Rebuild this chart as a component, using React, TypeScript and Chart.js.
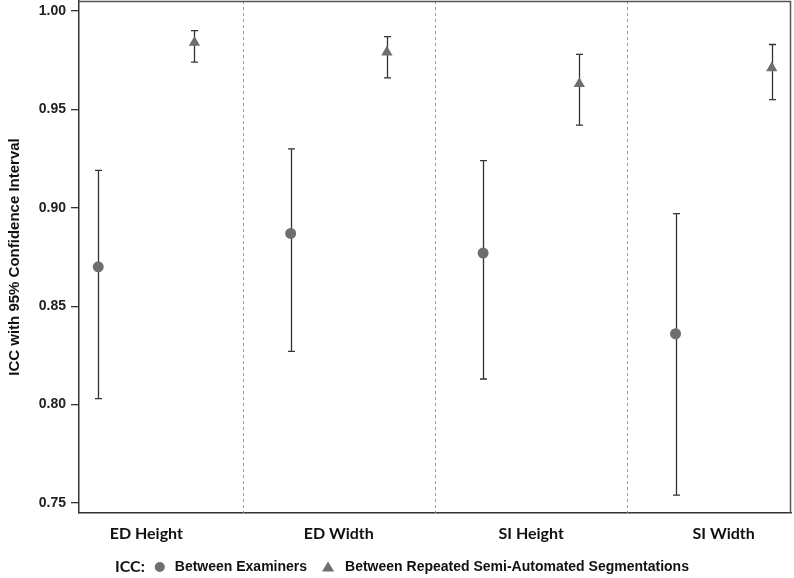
import React, { useEffect, useRef } from "react";
import { Chart, registerables } from "chart.js";
Chart.register(...registerables);

const categories = ["ED Height", "ED Width", "SI Height", "SI Width"];
const examinersICC = [0.87, 0.887, 0.877, 0.836];
const examinersLow = [0.803, 0.827, 0.813, 0.754];
const examinersHigh = [0.919, 0.93, 0.924, 0.897];
const segICC = [0.984, 0.979, 0.963, 0.971];
const segLow = [0.974, 0.966, 0.942, 0.955];
const segHigh = [0.99, 0.987, 0.978, 0.983];
const yTickValues = [0.75, 0.8, 0.85, 0.9, 0.95, 1.0];
const separators = [0.5, 1.5, 2.5];
const seriesNames = ["Between Examiners", "Between Repeated Semi-Automated Segmentations"];

const ARIAL = "'Liberation Sans', Arial, sans-serif";
const CAL = "Lato, 'Open Sans', sans-serif";
const MARK = "#6e6e6e";

const series = [
  { values: examinersICC, low: examinersLow, high: examinersHigh, offset: -0.25 },
  { values: segICC, low: segLow, high: segHigh, offset: 0.25 },
];

export default function App() {
  const ref = useRef<HTMLCanvasElement>(null);
  useEffect(() => {
    const canvas = ref.current!;
    const decor = {
      id: "decor",
      beforeDatasetsDraw(chart: any) {
        const { ctx, chartArea, scales } = chart;
        const x = scales.x, y = scales.y;
        ctx.save();
        ctx.strokeStyle = "#9a9a9a";
        ctx.lineWidth = 1;
        ctx.setLineDash([3, 3]);
        separators.forEach((s) => {
          const px = Math.round(x.getPixelForValue(s)) + 0.5;
          ctx.beginPath();
          ctx.moveTo(px, chartArea.top);
          ctx.lineTo(px, chartArea.bottom);
          ctx.stroke();
        });
        ctx.setLineDash([]);
        ctx.strokeStyle = "#333";
        ctx.lineWidth = 1.3;
        series.forEach((s) => {
          s.low.forEach((lo, i) => {
            const px = Math.round(x.getPixelForValue(i + s.offset)) + 0.5;
            const y1 = y.getPixelForValue(lo);
            const y2 = y.getPixelForValue(s.high[i]);
            ctx.beginPath();
            ctx.moveTo(px, y1);
            ctx.lineTo(px, y2);
            ctx.moveTo(px - 3.5, y1);
            ctx.lineTo(px + 3.5, y1);
            ctx.moveTo(px - 3.5, y2);
            ctx.lineTo(px + 3.5, y2);
            ctx.stroke();
          });
        });
        ctx.restore();
      },
      afterDraw(chart: any) {
        const { ctx, chartArea } = chart;
        ctx.save();
        ctx.strokeStyle = "#555";
        ctx.lineWidth = 1.5;
        ctx.beginPath();
        ctx.moveTo(chartArea.left, chartArea.top + 0.5);
        ctx.lineTo(chartArea.right - 0.5, chartArea.top + 0.5);
        ctx.lineTo(chartArea.right - 0.5, chartArea.bottom);
        ctx.stroke();
        // legend
        const ly = 567;
        ctx.textBaseline = "middle";
        ctx.textAlign = "left";
        ctx.fillStyle = "#111";
        ctx.font = `bold 16px ${CAL}`;
        let lx = 115;
        ctx.fillText("ICC:", lx, ly);
        lx += ctx.measureText("ICC:").width + 10;
        ctx.fillStyle = MARK;
        ctx.beginPath();
        ctx.arc(lx + 5, ly, 5, 0, Math.PI * 2);
        ctx.fill();
        lx += 20;
        ctx.fillStyle = "#111";
        ctx.font = `bold 14px ${ARIAL}`;
        ctx.fillText(seriesNames[0], lx, ly);
        lx += ctx.measureText(seriesNames[0]).width + 15;
        ctx.fillStyle = MARK;
        ctx.beginPath();
        ctx.moveTo(lx + 6, ly - 5.5);
        ctx.lineTo(lx + 12, ly + 4.5);
        ctx.lineTo(lx, ly + 4.5);
        ctx.closePath();
        ctx.fill();
        lx += 23;
        ctx.fillStyle = "#111";
        ctx.fillText(seriesNames[1], lx, ly);
        ctx.restore();
      },
    };

    const chart = new Chart(canvas, {
      type: "scatter",
      data: {
        datasets: [
          {
            label: seriesNames[0],
            data: examinersICC.map((v, i) => ({ x: i + series[0].offset, y: v })),
            pointStyle: "circle",
            pointRadius: 5.5,
            pointBackgroundColor: MARK,
            pointBorderWidth: 0,
            borderWidth: 0,
          },
          {
            label: seriesNames[1],
            data: segICC.map((v, i) => ({ x: i + series[1].offset, y: v })),
            pointStyle: "triangle",
            pointRadius: 6.5,
            pointBackgroundColor: MARK,
            pointBorderWidth: 0,
            borderWidth: 0,
          },
        ],
      },
      options: {
        responsive: true,
        maintainAspectRatio: false,
        animation: false,
        layout: { autoPadding: false, padding: { top: 1, right: 3, left: 0, bottom: 0 } },
        plugins: { legend: { display: false }, tooltip: { enabled: false } },
        scales: {
          x: {
            type: "linear",
            min: -0.35,
            max: 3.35,
            afterBuildTicks: (s: any) => {
              s.ticks = categories.map((_, i) => ({ value: i }));
            },
            afterFit: (s: any) => {
              s.height = 65;
              s.paddingLeft = 0;
              s.paddingRight = 0;
            },
            grid: { display: false },
            border: { display: true, color: "#333", width: 1.5 },
            ticks: {
              callback: (v: any) => categories[Math.round(v)] ?? "",
              font: { family: CAL, size: 16, weight: "bold" },
              color: "#111",
              padding: 3,
              maxRotation: 0,
            },
          },
          y: {
            min: 0.7449,
            max: 1.0051,
            afterBuildTicks: (s: any) => {
              s.ticks = yTickValues.map((v) => ({ value: v }));
            },
            afterFit: (s: any) => {
              s.width = 79;
              s.paddingTop = 0;
              s.paddingBottom = 0;
            },
            grid: { drawOnChartArea: false, tickLength: 8, color: "#333", lineWidth: 1.3 },
            border: { display: true, color: "#333", width: 1.5 },
            ticks: {
              callback: (v: any) => Number(v).toFixed(2),
              font: { family: ARIAL, size: 14, weight: "bold" },
              color: "#222",
              padding: 5,
            },
            title: {
              display: true,
              text: "ICC with 95% Confidence Interval",
              font: { family: ARIAL, size: 15, weight: "bold" },
              color: "#111",
              padding: { top: 6, bottom: 0 },
            },
          },
        },
      },
      plugins: [decor],
    });
    return () => chart.destroy();
  }, []);
  return (
    <div style={{ position: "fixed", left: 0, top: 0, width: 794, height: 578, background: "#fff" }}>
      <canvas ref={ref} />
    </div>
  );
}
